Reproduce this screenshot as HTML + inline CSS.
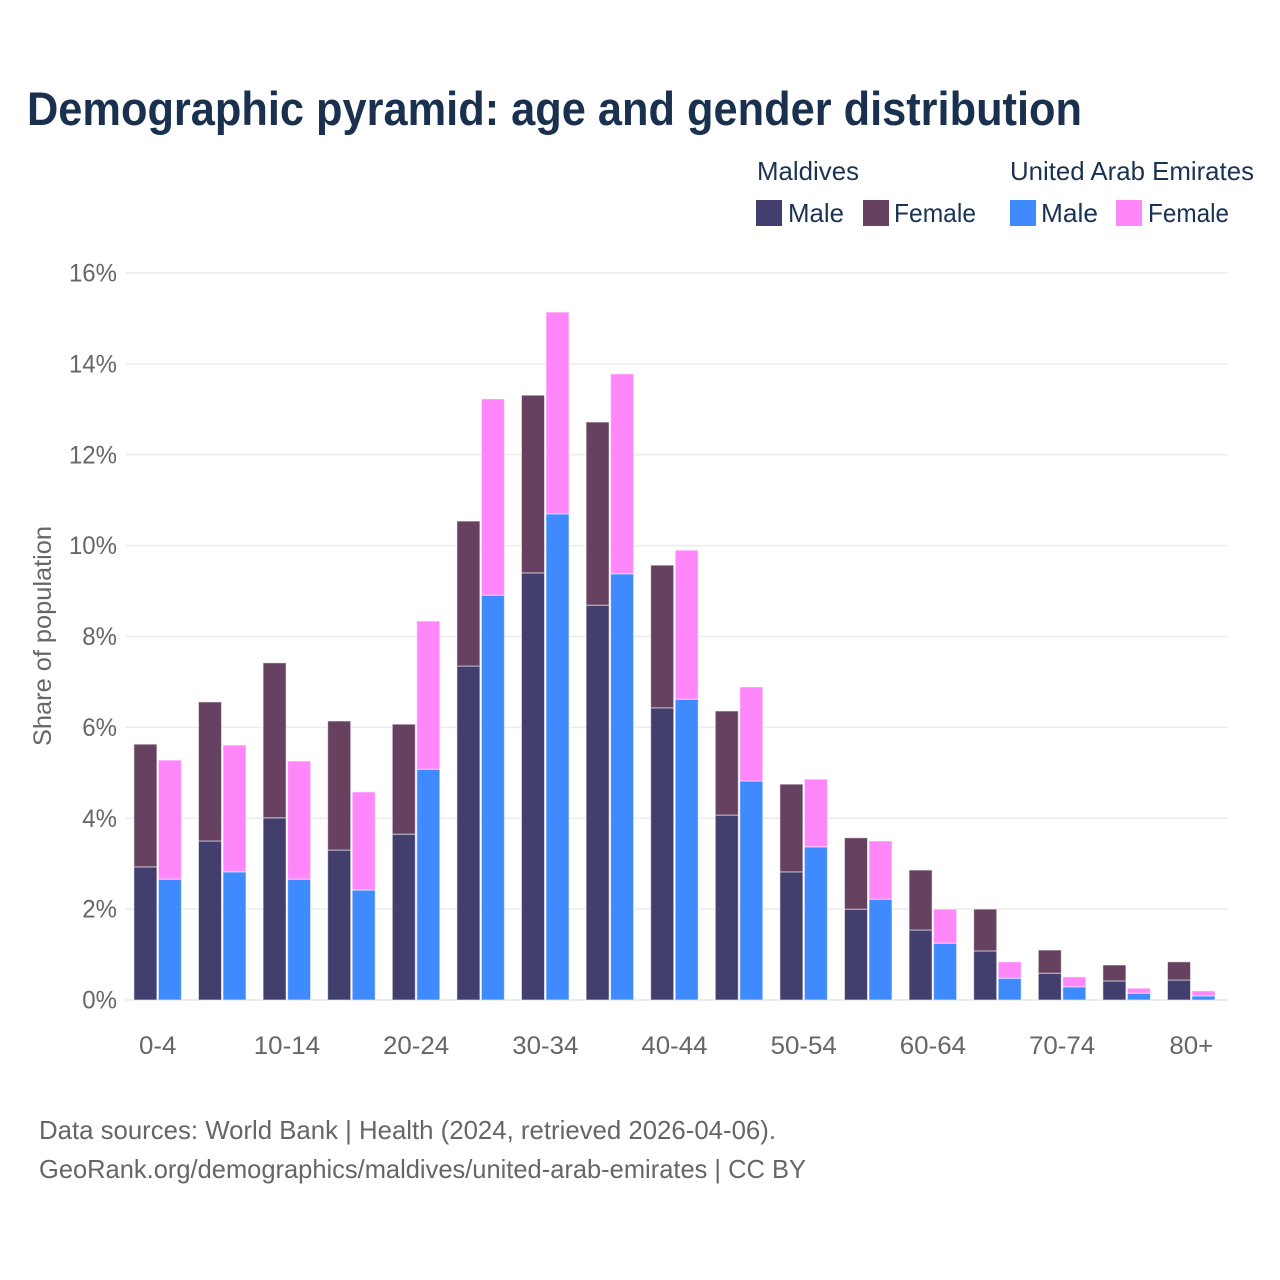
<!DOCTYPE html>
<html lang="en">
<head>
<meta charset="utf-8">
<title>Demographic pyramid: age and gender distribution</title>
<style>
html,body{margin:0;padding:0;background:#fff;width:1280px;height:1280px;overflow:hidden}
svg{display:block}
text{font-family:"Liberation Sans",Arial,sans-serif}
</style>
</head>
<body>
<svg id="chart" width="1280" height="1280" viewBox="0 0 1280 1280" xmlns="http://www.w3.org/2000/svg">
  <rect x="0" y="0" width="1280" height="1280" fill="#ffffff"/>
  <text x="27" y="125" font-size="47" font-weight="700" fill="#19314f" textLength="1055" lengthAdjust="spacingAndGlyphs">Demographic pyramid: age and gender distribution</text>

  <g font-size="26" fill="#1b3353">
    <text x="757" y="180" textLength="102" lengthAdjust="spacingAndGlyphs">Maldives</text>
    <text x="1010" y="180" textLength="244" lengthAdjust="spacingAndGlyphs">United Arab Emirates</text>
    <g>
      <rect x="756" y="200" width="26" height="26" fill="#423f6f"/>
      <text x="788" y="222" textLength="56" lengthAdjust="spacingAndGlyphs">Male</text>
    </g>
    <g>
      <rect x="863" y="200" width="26" height="26" fill="#674160"/>
      <text x="894" y="222" textLength="82" lengthAdjust="spacingAndGlyphs">Female</text>
    </g>
    <g>
      <rect x="1010" y="200" width="26" height="26" fill="#408aff"/>
      <text x="1041" y="222" textLength="57" lengthAdjust="spacingAndGlyphs">Male</text>
    </g>
    <g>
      <rect x="1116" y="200" width="26" height="26" fill="#ff87f9"/>
      <text x="1148" y="222" textLength="81" lengthAdjust="spacingAndGlyphs">Female</text>
    </g>
  </g>

  <g id="grid"></g>
  <g id="bars"></g>
  <g id="yticks"></g>
  <g id="xticks"></g>

  <text transform="translate(51,636) rotate(-90)" text-anchor="middle" font-size="25" fill="#666666" textLength="220" lengthAdjust="spacingAndGlyphs">Share of population</text>

  <g>
    <text x="39" y="1139" font-size="26" fill="#666666" textLength="737" lengthAdjust="spacingAndGlyphs">Data sources: World Bank | Health (2024, retrieved 2026-04-06).</text>
    <text x="39" y="1178" font-size="26" fill="#666666" textLength="767" lengthAdjust="spacingAndGlyphs">GeoRank.org/demographics/maldives/united-arab-emirates | CC BY</text>
  </g>
</svg>
<script>
const ageGroups = ["0-4","5-9","10-14","15-19","20-24","25-29","30-34","35-39","40-44","45-49","50-54","55-59","60-64","65-69","70-74","75-79","80+"];
const xTickLabels = ["0-4","10-14","20-24","30-34","40-44","50-54","60-64","70-74","80+"];
const yTickValues = [0,2,4,6,8,10,12,14,16];
const maldivesMale = [2.93,3.50,4.01,3.30,3.65,7.35,9.40,8.69,6.43,4.07,2.82,2.00,1.54,1.08,0.59,0.42,0.44];
const maldivesFemale = [2.70,3.06,3.41,2.84,2.42,3.19,3.91,4.03,3.14,2.29,1.93,1.57,1.32,0.92,0.51,0.35,0.40];
const uaeMale = [2.66,2.82,2.66,2.42,5.08,8.91,10.70,9.38,6.62,4.82,3.37,2.22,1.25,0.48,0.29,0.15,0.09];
const uaeFemale = [2.62,2.79,2.60,2.16,3.26,4.32,4.44,4.40,3.28,2.07,1.49,1.28,0.75,0.36,0.22,0.11,0.11];

const SVGNS = "http://www.w3.org/2000/svg";
const plotLeft = 125.2, plotRight = 1228, plotBottom = 1000, plotTop = 273;
const yMax = 16;
const groupStep = 64.6;
const barWidth = 23, barOffset = 24.5, firstBarPad = 8.7;

function yScale(v) { return plotBottom - (v / yMax) * (plotBottom - plotTop); }
function xGroup(i) { return plotLeft + i * groupStep; }
function xCenter(i) { return xGroup(i) + 32.5; }

const gridG = document.getElementById("grid");
const yG = document.getElementById("yticks");
const xG = document.getElementById("xticks");
const barsG = document.getElementById("bars");

yTickValues.forEach(function (t) {
  const line = document.createElementNS(SVGNS, "line");
  
  
  line.setAttribute("x1", plotLeft);
  line.setAttribute("x2", plotRight);
  line.setAttribute("y1", yScale(t));
  line.setAttribute("y2", yScale(t));
  line.setAttribute("stroke", "#ececec");
  line.setAttribute("stroke-width", t === 0 ? 2 : 1.5);
  gridG.appendChild(line);

  const label = document.createElementNS(SVGNS, "text");
  
  
  label.setAttribute("x", 117);
  label.setAttribute("y", yScale(t) + 8.5);
  label.setAttribute("text-anchor", "end");
  label.setAttribute("font-size", "25");
  label.setAttribute("fill", "#666666");
  label.textContent = t + "%";
  yG.appendChild(label);
  label.setAttribute("lengthAdjust", "spacingAndGlyphs");
  label.setAttribute("textLength", label.getComputedTextLength() * 0.96);
});

xTickLabels.forEach(function (name) {
  const label = document.createElementNS(SVGNS, "text");
  
  
  label.setAttribute("x", xCenter(ageGroups.indexOf(name)));
  label.setAttribute("y", 1054);
  label.setAttribute("text-anchor", "middle");
  label.setAttribute("font-size", "25");
  label.setAttribute("fill", "#666666");
  label.textContent = name;
  xG.appendChild(label);
  label.setAttribute("lengthAdjust", "spacingAndGlyphs");
  label.setAttribute("textLength", label.getComputedTextLength() * 1.035);
});

function addBar(x, v0, v1, color, name) {
  const r = document.createElementNS(SVGNS, "rect");
  
  
  r.setAttribute("x", x);
  r.setAttribute("y", yScale(v1));
  r.setAttribute("width", barWidth);
  r.setAttribute("height", yScale(v0) - yScale(v1));
  r.setAttribute("fill", color);
  r.setAttribute("stroke", "#ffffff");
  r.setAttribute("stroke-opacity", "0.55");
  r.setAttribute("stroke-width", "1");
  barsG.appendChild(r);
}

ageGroups.forEach(function (g, i) {
  const x1 = xGroup(i) + firstBarPad;
  const x2 = x1 + barOffset;
  addBar(x1, 0, maldivesMale[i], "#423f6f", "bar-maldives-male-" + g);
  addBar(x1, maldivesMale[i], maldivesMale[i] + maldivesFemale[i], "#674160", "bar-maldives-female-" + g);
  addBar(x2, 0, uaeMale[i], "#408aff", "bar-uae-male-" + g);
  addBar(x2, uaeMale[i], uaeMale[i] + uaeFemale[i], "#ff87f9", "bar-uae-female-" + g);
});
</script>
</body>
</html>
